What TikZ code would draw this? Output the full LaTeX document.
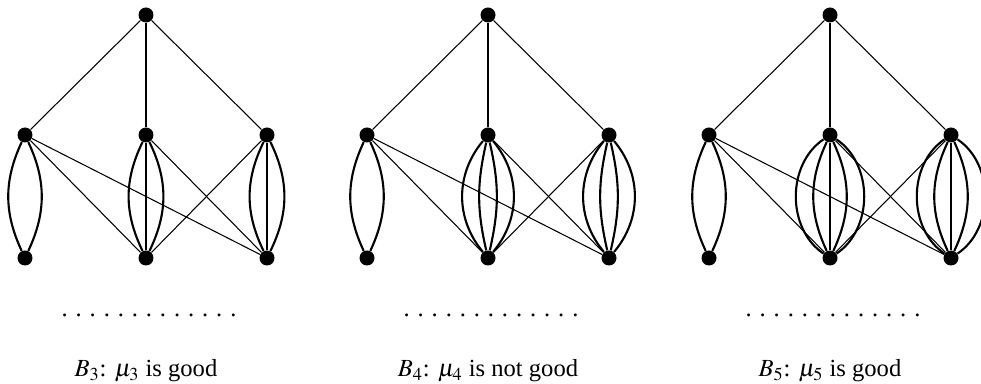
\documentclass[tikz,border=0pt]{standalone}
\usepackage{mathptmx}
\usepackage[no-math]{fontspec}
\setmainfont{Liberation Serif}
\usetikzlibrary{calc}

\newcommand{\dotrow}{.\kern4.5pt.\kern4.5pt.\kern4.5pt.\kern4.5pt.\kern4.5pt.\kern4.5pt.\kern4.5pt.\kern4.5pt.\kern4.5pt.\kern4.5pt.\kern4.5pt.\kern4.5pt.}

\begin{document}
\begin{tikzpicture}[x=0.02cm, y=-0.02cm,
    vtx/.style={circle, fill, inner sep=0pt, minimum size=0.3cm},
    edge/.style={line width=0.6pt},
    multi/.style={line width=1.2pt},
    caption/.style={font=\fontsize{14}{16}\selectfont, anchor=base}]
    \useasboundingbox (0,0) rectangle (981,384);
    \foreach \g/\sx/\verdict in {3/0/good, 4/342/not good, 5/684/good}{
        % vertices
        \node[vtx] (t\g) at (146+\sx,15) {};
        \node[vtx] (a\g) at (25+\sx,135) {};
        \node[vtx] (b\g) at (146+\sx,135) {};
        \node[vtx] (c\g) at (267+\sx,135) {};
        \node[vtx] (d\g) at (25+\sx,258) {};
        \node[vtx] (e\g) at (146+\sx,258) {};
        \node[vtx] (f\g) at (267+\sx,258) {};
        % simple edges
        \path[draw, edge] (t\g) -- (a\g);
        \path[draw, edge] (t\g) -- (c\g);
        \path[draw, multi] (t\g) -- (b\g);
        \path[draw, edge] (a\g) -- (e\g);
        \path[draw, edge] (a\g) -- (f\g);
        \path[draw, edge] (b\g) -- (f\g);
        \path[draw, edge] (c\g) -- (e\g);
        % double edge on the left
        \foreach \bb in {-25,25}
            \path[draw, multi] (a\g) to[bend left=\bb] (d\g);
        % texts
        \node[caption] (dots\g) at (149+\sx,317) {\dotrow};
        \node[caption] (cap\g) at (146+\sx,377) {$B_\g$: $\mu_\g$ is \verdict};
    }
    % multiple edges of B3
    \foreach \v/\w in {b3/e3, c3/f3}{
        \path[draw, multi] (\v) -- (\w);
        \foreach \bb in {-26,26}
            \path[draw, multi] (\v) to[bend left=\bb] (\w);
    }
    % multiple edges of B4
    \foreach \v/\w in {b4/e4, c4/f4}
        \foreach \bb in {-40,-13,13,40}
            \path[draw, multi] (\v) to[bend left=\bb] (\w);
    % multiple edges of B5
    \foreach \v/\w in {b5/e5, c5/f5}{
        \path[draw, multi] (\v) -- (\w);
        \foreach \bb in {-56,-25,25,56}
            \path[draw, multi] (\v) to[bend left=\bb] (\w);
    }
\end{tikzpicture}
\end{document}
